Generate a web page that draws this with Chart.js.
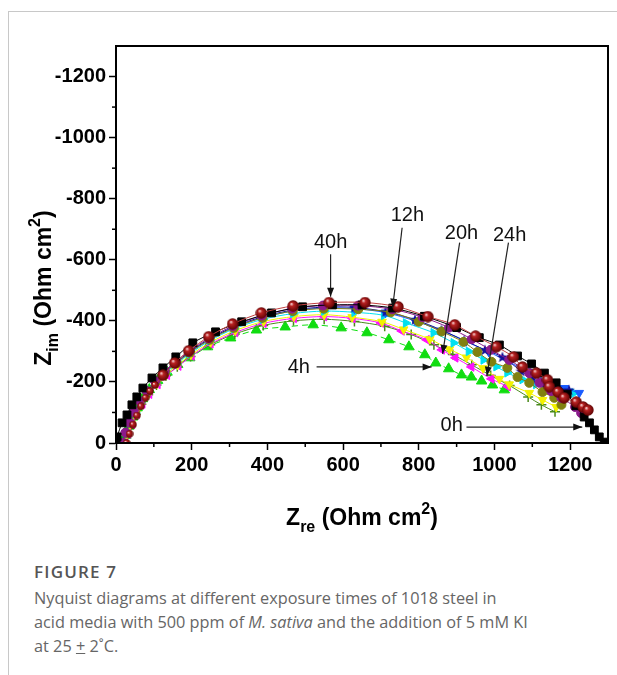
<!DOCTYPE html>
<html>
<head>
<meta charset="utf-8">
<script src="https://cdn.jsdelivr.net/npm/chart.js@4.4.1/dist/chart.umd.min.js"></script>
<style>
  html, body { margin: 0; padding: 0; background: #fff; }
  body { width: 617px; height: 675px; position: relative; overflow: hidden; }
  #card { position: absolute; left: 8px; top: 11px; width: 620px; height: 680px;
          border-top: 1px solid #c8c8c8; border-left: 1px solid #c8c8c8; }
  #chart { position: absolute; left: 0; top: 0; }
  #fig { position: absolute; left: 34px; top: 560px; font-family: "Open Sans", sans-serif;
         font-size: 17px; font-weight: 600; letter-spacing: 1.2px; color: #555; }
  #cap { position: absolute; left: 34px; top: 586px; font-family: "Open Sans", sans-serif;
         font-size: 16.3px; line-height: 24px; color: #666; white-space: nowrap; }
</style>
</head>
<body>
<div id="card"></div>
<canvas id="chart" width="617" height="545"></canvas>
<div id="fig">FIGURE 7</div>
<div id="cap">Nyquist diagrams at different exposure times of 1018 steel in<br>acid media with 500 ppm of <i>M. sativa</i> and the addition of 5 mM KI<br>at 25 <u>+</u> 2˚C.</div>
<script>
// ค่าที่อ่านจากรูป: Zre (Ohm cm2) และ Zim (Ohm cm2) ของแต่ละเวลา
const zre0h = [0, 3, 16, 29, 42, 55, 71, 95, 124, 158, 203, 263, 332, 411, 493, 572, 650, 731, 815, 900, 960, 1013, 1061, 1098, 1132, 1163, 1192, 1215, 1237, 1251, 1264, 1277, 1290];
const zim0h = [-5, -20, -66, -92, -125, -151, -180, -213, -246, -282, -328, -364, -397, -426, -446, -452, -452, -442, -415, -378, -345, -321, -285, -259, -229, -197, -160, -122, -85, -66, -43, -20, -3];

const zre4h = [20, 26, 34, 44, 56, 70, 88, 110, 135, 163, 195, 242, 303, 371, 447, 521, 595, 663, 721, 774, 816, 845, 879, 913, 939, 966, 995, 1026];
const zim4h = [0, -25, -55, -85, -115, -145, -175, -205, -232, -257, -279, -315, -344, -370, -380, -387, -377, -361, -338, -315, -289, -262, -243, -223, -216, -203, -190, -174];

const zre8h = [24, 32, 42, 55, 70, 88, 110, 135, 165, 200, 250, 315, 390, 470, 550, 625, 700, 755, 821, 861, 897, 939, 992, 1035];
const zim8h = [0, -30, -62, -95, -128, -160, -192, -222, -252, -285, -325, -362, -392, -408, -414, -408, -393, -367, -338, -305, -279, -249, -210, -185];

const zre12h = [22, 30, 40, 53, 68, 86, 108, 133, 163, 198, 250, 315, 390, 470, 550, 624, 703, 760, 829, 881, 926, 970, 1013, 1039, 1092, 1127, 1163];
const zim12h = [0, -30, -62, -96, -130, -162, -194, -225, -256, -289, -330, -368, -398, -414, -420, -412, -397, -372, -340, -307, -280, -245, -210, -192, -164, -141, -118];

const zre16h = [20, 28, 38, 51, 66, 84, 106, 131, 161, 196, 248, 312, 388, 468, 550, 630, 708, 766, 839, 892, 932, 971, 1005, 1034, 1074, 1110, 1150, 1192, 1211];
const zim16h = [0, -32, -65, -99, -133, -166, -198, -229, -260, -293, -335, -374, -405, -424, -432, -428, -418, -393, -361, -328, -300, -272, -250, -230, -208, -192, -180, -168, -164];

const zre20h = [18, 26, 36, 49, 64, 82, 104, 129, 159, 194, 246, 310, 386, 466, 548, 630, 712, 790, 860, 920, 975, 1021, 1071, 1100, 1132, 1165, 1197];
const zim20h = [0, -33, -67, -101, -135, -168, -201, -233, -264, -298, -340, -380, -413, -435, -445, -444, -430, -404, -370, -336, -305, -282, -235, -212, -192, -180, -174];

const zre24h = [19, 27, 37, 50, 65, 83, 105, 130, 160, 195, 247, 311, 387, 467, 549, 640, 726, 800, 860, 918, 955, 992, 1034, 1061, 1092, 1127, 1158, 1177];
const zim24h = [0, -33, -66, -100, -134, -167, -200, -231, -262, -296, -338, -377, -410, -432, -440, -438, -428, -397, -365, -331, -298, -266, -246, -216, -197, -167, -148, -125];

const zre28h = [17, 25, 35, 48, 63, 81, 103, 128, 158, 193, 245, 309, 385, 465, 547, 640, 730, 810, 880, 940, 990, 1039, 1092, 1119, 1150, 1177, 1213, 1229];
const zim28h = [0, -34, -68, -102, -137, -170, -203, -235, -267, -300, -343, -383, -417, -440, -450, -450, -438, -412, -378, -340, -305, -272, -229, -197, -170, -148, -118, -98];

const zre32h = [21, 29, 39, 52, 67, 85, 107, 132, 162, 197, 249, 314, 389, 469, 550, 630, 710, 780, 840, 890, 940, 990, 1040, 1089, 1124, 1160];
const zim32h = [0, -30, -61, -94, -127, -158, -190, -220, -250, -283, -322, -357, -385, -400, -405, -398, -382, -355, -322, -290, -256, -221, -188, -151, -125, -102];

const zre36h = [18, 26, 36, 49, 64, 82, 104, 129, 159, 194, 246, 310, 386, 466, 548, 630, 712, 790, 860, 925, 985, 1040, 1090, 1140, 1185, 1224];
const zim36h = [0, -33, -66, -100, -134, -167, -200, -232, -263, -296, -338, -378, -410, -432, -442, -440, -427, -400, -368, -333, -298, -265, -232, -204, -180, -164];

const zre40h = [28, 36, 45, 55, 66, 78, 90, 103, 124, 155, 192, 245, 308, 384, 468, 563, 658, 745, 824, 895, 950, 1005, 1050, 1074, 1111, 1140, 1145, 1168, 1184, 1216, 1234, 1247];
const zim40h = [0, -30, -60, -90, -120, -148, -170, -190, -222, -262, -302, -348, -390, -426, -449, -460, -460, -446, -414, -387, -350, -315, -282, -249, -229, -207, -184, -167, -148, -134, -118, -108];

const xTicks = [0, 200, 400, 600, 800, 1000, 1200];
const yTicks = [0, -200, -400, -600, -800, -1000, -1200];

// ป้ายกำกับพร้อมลูกศร (หน่วยเดียวกับแกน)
const notes = [
  { text: '40h', tx: 567, ty: -656, x1: 567, y1: -618, x2: 567, y2: -479 },
  { text: '12h', tx: 770, ty: -744, x1: 756, y1: -705, x2: 731, y2: -443 },
  { text: '20h', tx: 913, ty: -685, x1: 908, y1: -656, x2: 863, y2: -292 },
  { text: '24h', tx: 1040, ty: -679, x1: 1037, y1: -656, x2: 980, y2: -220 },
  { text: '4h', tx: 483, ty: -246, x1: 530, y1: -249, x2: 834, y2: -249 },
  { text: '0h', tx: 887, ty: -56, x1: 926, y1: -52, x2: 1232, y2: -52 }
];

function pts(xs, ys) {
  return xs.map((x, i) => ({ x: x, y: ys[i] }));
}

// ลูกบอลสีแดงเข้มแบบมีเงา
function sphere(d) {
  const c = document.createElement('canvas');
  c.width = d; c.height = d;
  const g = c.getContext('2d');
  const r = d / 2;
  const gr = g.createRadialGradient(r * 0.7, r * 0.65, 0.3, r, r, r);
  gr.addColorStop(0, '#f6d0d0');
  gr.addColorStop(0.3, '#b82222');
  gr.addColorStop(1, '#5a0000');
  g.fillStyle = gr;
  g.beginPath(); g.arc(r, r, r - 0.3, 0, Math.PI * 2); g.fill();
  return c;
}
const bigBall = sphere(12);
const smallBall = sphere(8);

function star(color) {
  const c = document.createElement('canvas');
  c.width = 12; c.height = 12;
  const g = c.getContext('2d');
  g.fillStyle = color;
  g.beginPath();
  for (let i = 0; i < 10; i++) {
    const r = i % 2 === 0 ? 6 : 2.5;
    const a = -Math.PI / 2 + i * Math.PI / 5;
    g.lineTo(6 + r * Math.cos(a), 6.5 + r * Math.sin(a));
  }
  g.closePath(); g.fill();
  return c;
}

function series(label, xs, ys, color, style, radius, rot, extra) {
  return Object.assign({
    label: label,
    data: pts(xs, ys),
    showLine: true,
    borderColor: color,
    borderWidth: 1,
    tension: 0.3,
    pointStyle: style,
    pointRadius: radius,
    pointRotation: rot || 0,
    pointBackgroundColor: color,
    pointBorderColor: color,
    pointBorderWidth: 1
  }, extra || {});
}

const datasets = [
  series('40h', zre40h, zim40h, '#a01818', c => (c.dataIndex < 8 ? smallBall : bigBall), 6, 0, { borderColor: '#c04040' }),
  series('0h', zre0h, zim0h, '#000000', 'rect', 5.5),
  series('28h', zre28h, zim28h, '#8b1a8b', 'circle', 4.5),
  series('24h', zre24h, zim24h, '#808010', 'circle', 4.5),
  series('20h', zre20h, zim20h, '#12129a', star('#12129a'), 5),
  series('36h', zre36h, zim36h, '#1a5cff', 'triangle', 5, 180),
  series('16h', zre16h, zim16h, '#00e0f0', 'triangle', 5, 90),
  series('12h', zre12h, zim12h, '#f2f200', 'triangle', 5, 180),
  series('8h', zre8h, zim8h, '#ff10ff', 'triangle', 5, 270),
  series('32h', zre32h, zim32h, '#4a8a1a', 'cross', 5, 0, { pointBorderWidth: 1.5 }),
  series('4h', zre4h, zim4h, '#10dd10', 'triangle', 6, 0, { borderDash: [6, 4] })
];

function drawArrow(ctx, x1, y1, x2, y2) {
  ctx.beginPath(); ctx.moveTo(x1, y1); ctx.lineTo(x2, y2); ctx.stroke();
  const a = Math.atan2(y2 - y1, x2 - x1);
  const L = 9, W = 3.5;
  ctx.beginPath();
  ctx.moveTo(x2, y2);
  ctx.lineTo(x2 - L * Math.cos(a) + W * Math.sin(a), y2 - L * Math.sin(a) - W * Math.cos(a));
  ctx.lineTo(x2 - L * Math.cos(a) - W * Math.sin(a), y2 - L * Math.sin(a) + W * Math.cos(a));
  ctx.closePath(); ctx.fill();
}

// ชื่อแกนที่มีตัวห้อย/ตัวยก
function drawTitle(ctx, sub) {
  const big = 'bold 23px Arial', small = 'bold 16px Arial';
  const parts = [
    { t: 'Z', f: big, dy: 0 },
    { t: sub, f: small, dy: 7 },
    { t: ' (Ohm cm', f: big, dy: 0 },
    { t: '2', f: small, dy: -11 },
    { t: ')', f: big, dy: 0 }
  ];
  let w = 0;
  parts.forEach(p => { ctx.font = p.f; w += ctx.measureText(p.t).width; });
  let x = -w / 2;
  ctx.textAlign = 'left';
  ctx.textBaseline = 'alphabetic';
  parts.forEach(p => { ctx.font = p.f; ctx.fillText(p.t, x, p.dy); x += ctx.measureText(p.t).width; });
}

const extras = {
  id: 'extras',
  afterDraw(chart) {
    const ctx = chart.ctx;
    const a = chart.chartArea;
    const sx = chart.scales.x, sy = chart.scales.y;
    ctx.save();
    ctx.strokeStyle = '#000';
    ctx.lineWidth = 2;
    ctx.strokeRect(a.left, a.top, a.right - a.left, a.bottom - a.top);

    // ขีดย่อย
    ctx.lineWidth = 1.5;
    for (let v = 100; v < 1300; v += 200) {
      const px = sx.getPixelForValue(v);
      ctx.beginPath(); ctx.moveTo(px, a.bottom); ctx.lineTo(px, a.bottom + 4); ctx.stroke();
      const py = sy.getPixelForValue(-v);
      ctx.beginPath(); ctx.moveTo(a.left, py); ctx.lineTo(a.left - 4, py); ctx.stroke();
    }

    ctx.fillStyle = '#000';
    ctx.save();
    ctx.translate(362, 525);
    drawTitle(ctx, 're');
    ctx.restore();
    ctx.save();
    ctx.translate(51, 288);
    ctx.rotate(-Math.PI / 2);
    drawTitle(ctx, 'im');
    ctx.restore();

    ctx.strokeStyle = '#222';
    ctx.fillStyle = '#111';
    ctx.lineWidth = 1.2;
    ctx.font = '20px Arial';
    ctx.textAlign = 'center';
    ctx.textBaseline = 'middle';
    notes.forEach(n => {
      ctx.fillText(n.text, sx.getPixelForValue(n.tx), sy.getPixelForValue(n.ty));
      drawArrow(ctx, sx.getPixelForValue(n.x1), sy.getPixelForValue(n.y1),
                sx.getPixelForValue(n.x2), sy.getPixelForValue(n.y2));
    });
    ctx.restore();
  }
};

const tickFont = { family: 'Arial', size: 20, weight: 'bold' };
const plain = v => String(v);

new Chart(document.getElementById('chart'), {
  type: 'scatter',
  data: { datasets: datasets },
  options: {
    responsive: false,
    animation: false,
    devicePixelRatio: 1,
    layout: { padding: { top: 46, right: 9, left: 0, bottom: 0 } },
    plugins: { legend: { display: false }, tooltip: { enabled: false } },
    scales: {
      x: {
        type: 'linear', min: 0, max: 1300,
        afterBuildTicks: s => { s.ticks = xTicks.map(v => ({ value: v })); },
        afterFit: s => { s.height = 102; },
        ticks: { font: tickFont, color: '#000', autoSkip: false, maxRotation: 0, padding: 3, callback: plain },
        grid: { drawOnChartArea: false, drawTicks: true, tickLength: 7, tickColor: '#000', tickWidth: 1.5 },
        border: { color: '#000', width: 2 }
      },
      y: {
        type: 'linear', min: -1300, max: 0, reverse: true,
        afterBuildTicks: s => { s.ticks = yTicks.map(v => ({ value: v })); },
        afterFit: s => { s.width = 116; },
        ticks: { font: tickFont, color: '#000', autoSkip: false, padding: 3, callback: plain },
        grid: { drawOnChartArea: false, drawTicks: true, tickLength: 7, tickColor: '#000', tickWidth: 1.5 },
        border: { color: '#000', width: 2 }
      }
    }
  },
  plugins: [extras]
});
</script>
</body>
</html>
